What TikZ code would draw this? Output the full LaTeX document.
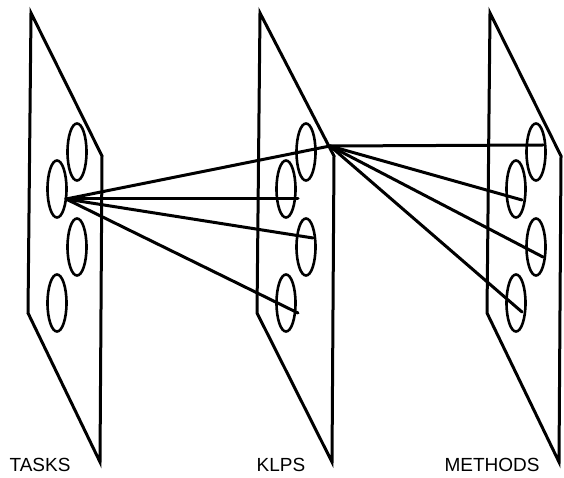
\documentclass[tikz,border=0pt]{standalone}
\usepackage{fontspec}
\setmainfont{Liberation Sans}
\usetikzlibrary{calc, shapes.geometric}

\begin{document}
\begin{tikzpicture}[x=1pt, y=-1pt,
    plane/.style={black, line width=3pt},
    slot/.style={draw, ellipse, line width=2.6pt, minimum width=19pt,
                 minimum height=57pt, inner sep=0pt},
    link/.style={black, line width=3pt, line cap=round},
    tag/.style={font=\fontsize{19}{21}\selectfont, inner sep=0pt}]

\useasboundingbox (0,0) rectangle (564,478);

% === Planes, each with four slots and a label ===
\foreach \p/\xl/\xr/\lx/\lab in {t/30/102/40/TASKS, k/259/334/281/KLPS, m/489/561/492/METHODS} {
    \draw[plane] (\xl+1,13) -- (\xr,156) -- (\xr-2,462) -- (\xl-2,313) -- cycle;
    \node[slot] (\p1) at (\xl+47,152) {};
    \node[slot] (\p2) at (\xl+27,189) {};
    \node[slot] (\p3) at (\xl+47,247) {};
    \node[slot] (\p4) at (\xl+27,303) {};
    \node[tag] (\lab) at (\lx,465) {\lab};
}

% Hubs where the fans start
\coordinate (thub) at ($(t2)+(9,10)$);
\coordinate (khub) at (330,146);

% === Links: tasks to KLPs, KLPs to methods ===
\draw[link] (thub) -- (khub);
\foreach \a/\b/\dx/\dy in {thub/k2/12/10, thub/k3/7/-9, thub/k4/12/10,
                           khub/m1/7/-7, khub/m2/6/11, khub/m3/7/10, khub/m4/6/9} {
    \draw[link] (\a) -- ($(\b)+(\dx,\dy)$);
}

\end{tikzpicture}
\end{document}
